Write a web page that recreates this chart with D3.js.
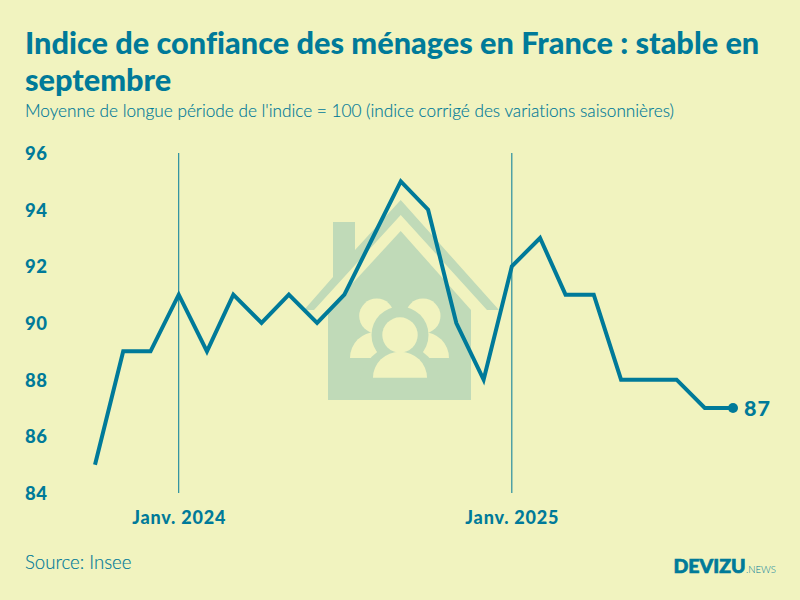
<!DOCTYPE html>
<html lang="fr">
<head>
<meta charset="utf-8">
<script src="https://cdn.jsdelivr.net/npm/d3@7"></script>
<style>
html, body { margin: 0; padding: 0; background: #f1f3bf; }
svg { display: block; font-family: Lato, sans-serif; font-variant-ligatures: none; }
</style>
</head>
<body>
<div id="chart"></div>
<script>
const months = ["2023-10","2023-11","2023-12","2024-01","2024-02","2024-03","2024-04","2024-05",
    "2024-06","2024-07","2024-08","2024-09","2024-10","2024-11","2024-12","2025-01",
    "2025-02","2025-03","2025-04","2025-05","2025-06","2025-07","2025-08","2025-09"];
const values = [85,89,89,91,89,91,90,91,90,91,93,95,94,90,88,92,93,91,91,88,88,88,87,87];
const yTicks = [84,86,88,90,92,94,96];
const markerMonths = ["2024-01","2025-01"];
const markerLabels = ["Janv. 2024","Janv. 2025"];
const titleLines = ["Indice de confiance des ménages en France : stable en","septembre"];
const subtitle = "Moyenne de longue période de l'indice = 100 (indice corrigé des variations saisonnières)";
const source = "Source: Insee";

const teal = "#007a99";
const bg = "#f1f3bf";
const houseColor = "#c0dab8";

const width = 800;
const height = 600;
const margin = {top: 153, right: 67, bottom: 107, left: 95};

const parseMonth = d3.utcParse("%Y-%m");
const data = months.map((m, i) => ({date: parseMonth(m), value: values[i]}));

const x = d3.scaleUtc()
    .domain(d3.extent(data, d => d.date))
    .range([margin.left, width - margin.right]);

const y = d3.scaleLinear()
    .domain([84, 96])
    .range([height - margin.bottom, margin.top]);

const svg = d3.select("#chart").append("svg")
    .attr("width", width)
    .attr("height", height)
    .attr("viewBox", `0 0 ${width} ${height}`);

svg.append("rect").attr("width", width).attr("height", height).attr("fill", bg);

// title block
svg.selectAll(".title")
    .data(titleLines)
    .enter()
    .append("text")
    .attr("class", "title")
    .attr("x", 25)
    .attr("y", (d, i) => 54 + i * 37)
    .attr("fill", teal)
    .style("font-size", "30.7px")
    .style("font-weight", 900)
    .text(d => d);

svg.append("text")
    .attr("x", 25)
    .attr("y", 117)
    .attr("fill", teal)
    .style("font-size", "17.2px")
    .style("font-weight", 300)
    .style("stroke", teal)
    .style("stroke-width", 0.15)
    .text(subtitle);

// house in the background
const house = svg.append("g").attr("fill", houseColor);
house.append("path").attr("d", "M304,310L333,277V222H355V250L400.7,200L499,310H487L400.7,215L314,310Z");
house.append("path").attr("d", "M328,400H471V310L400.7,231L328,310Z");

const halfDisc = (cx, base, rx, ry) => `M${cx - rx},${base}A${rx},${ry} 0 0 1 ${cx + rx},${base}Z`;

const people = svg.append("g");
[376.7, 423].forEach(cx => {
    people.append("circle").attr("cx", cx).attr("cy", 316).attr("r", 17.5).attr("fill", bg);
});
people.append("path").attr("d", halfDisc(376, 358, 26, 26)).attr("fill", bg);
people.append("path").attr("d", halfDisc(423, 358, 26, 26)).attr("fill", bg);
people.append("circle").attr("cx", 400).attr("cy", 335).attr("r", 28.5).attr("fill", houseColor);
people.append("path").attr("d", halfDisc(400, 385, 40, 40)).attr("fill", houseColor);
people.append("circle").attr("cx", 400).attr("cy", 335).attr("r", 17.7).attr("fill", bg);
people.append("path").attr("d", halfDisc(400, 377.7, 27, 26)).attr("fill", bg);

// january markers
const markers = markerMonths.map((m, i) => ({date: parseMonth(m), label: markerLabels[i]}));

svg.selectAll(".marker")
    .data(markers)
    .enter()
    .append("line")
    .attr("class", "marker")
    .attr("x1", d => x(d.date))
    .attr("x2", d => x(d.date))
    .attr("y1", y(96))
    .attr("y2", y(84))
    .attr("stroke", teal)
    .attr("stroke-width", 1);

const xAxis = svg.append("g")
    .attr("transform", `translate(0,${height - margin.bottom})`)
    .call(d3.axisBottom(x)
        .tickValues(markers.map(d => d.date))
        .tickFormat((d, i) => markers[i].label)
        .tickSize(0)
        .tickPadding(18));
xAxis.select(".domain").remove();
xAxis.selectAll("text")
    .attr("fill", teal)
    .style("font-family", "Lato, sans-serif")
    .style("font-size", "18px")
    .style("font-weight", 900)
    .style("letter-spacing", "0.8px");

const yAxis = svg.append("g")
    .attr("transform", "translate(25,0.5)")
    .call(d3.axisLeft(y).tickValues(yTicks).tickSize(0).tickPadding(0));
yAxis.select(".domain").remove();
yAxis.selectAll("text")
    .attr("text-anchor", "start")
    .attr("fill", teal)
    .style("font-family", "Lato, sans-serif")
    .style("font-size", "18.5px")
    .style("font-weight", 900)
    .style("letter-spacing", "0.5px");

const line = d3.line()
    .x(d => x(d.date))
    .y(d => y(d.value));

svg.append("path")
    .datum(data)
    .attr("d", line)
    .attr("fill", "none")
    .attr("stroke", teal)
    .attr("stroke-width", 4)
    .attr("stroke-linejoin", "miter");

const last = data[data.length - 1];

svg.append("circle")
    .attr("cx", x(last.date))
    .attr("cy", y(last.value))
    .attr("r", 5)
    .attr("fill", teal);

svg.append("text")
    .attr("x", x(last.date) + 11)
    .attr("y", y(last.value))
    .attr("dy", "0.36em")
    .attr("fill", teal)
    .style("font-size", "21.5px")
    .style("font-weight", 900)
    .style("letter-spacing", "1px")
    .text(last.value);

svg.append("text")
    .attr("x", 25)
    .attr("y", 569)
    .attr("fill", teal)
    .style("font-size", "18.6px")
    .style("font-weight", 300)
    .style("stroke", teal)
    .style("stroke-width", 0.15)
    .text(source);

// logo
svg.append("text")
    .attr("x", 673.5)
    .attr("y", 573)
    .attr("fill", teal)
    .attr("stroke", teal)
    .attr("stroke-width", 0.7)
    .style("font-size", "19.5px")
    .style("font-weight", 900)
    .text("DEVIZU");

svg.append("text")
    .attr("x", 746)
    .attr("y", 573)
    .attr("fill", teal)
    .style("font-size", "9.6px")
    .style("font-weight", 300)
    .text(".NEWS");
</script>
</body>
</html>
